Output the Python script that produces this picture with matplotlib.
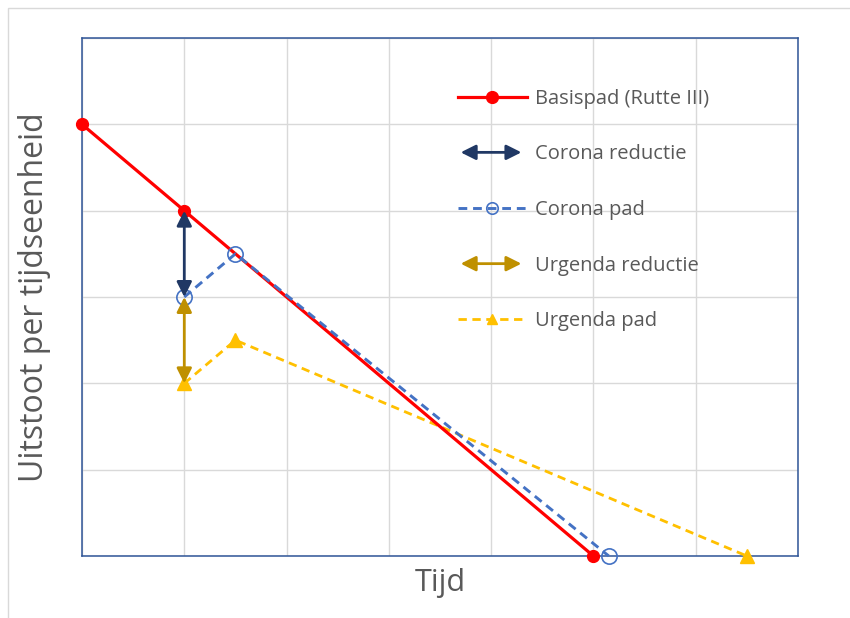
import matplotlib.pyplot as plt
from matplotlib.patches import FancyArrowPatch, Rectangle
from matplotlib.legend_handler import HandlerBase
from matplotlib.lines import Line2D

# data
basis_x = [0, 1, 5]
basis_y = [5, 4, 0]
corona_x = [1, 1.5, 5.15]
corona_y = [3, 3.5, 0]
urgenda_x = [1, 1.5, 6.5]
urgenda_y = [2, 2.5, 0]
corona_red = (1, 4, 3)     # x, from, to
urgenda_red = (1, 3, 2)

labels = ['Basispad (Rutte III)', 'Corona reductie', 'Corona pad',
          'Urgenda reductie', 'Urgenda pad']

red = '#FF0000'
blue = '#4472C4'
yellow = '#FFC000'
navy = '#203864'
gold = '#BF9000'
txt = '#595959'

plt.rcParams['font.family'] = ['Open Sans', 'DejaVu Sans']


class HandlerArrow(HandlerBase):
    def create_artists(self, legend, orig, xd, yd, w, h, fontsize, trans):
        a = FancyArrowPatch((xd, yd + h / 2), (xd + w - 2, yd + h / 2),
                            arrowstyle='<|-|>,head_length=0.9,head_width=0.45',
                            mutation_scale=10, color=orig.get_color(),
                            lw=2, transform=trans)
        return [a]


fig = plt.figure(figsize=(8.5, 6.18), dpi=100)
fig.patches.append(Rectangle((8 / 850, -0.01), 1, (618 - 8) / 618 + 0.01,
                             transform=fig.transFigure, fill=False,
                             ec='#D9D9D9', lw=1))
ax = fig.add_axes([82 / 850, 1 - 556 / 618, 716 / 850, 518 / 618])

ax.set_xlim(0, 7)
ax.set_ylim(0, 6)
ax.set_xticks(range(8))
ax.set_yticks(range(7))
ax.tick_params(length=0, labelbottom=False, labelleft=False)
ax.grid(True, color='#D9D9D9', lw=1)
for s in ax.spines.values():
    s.set_color('#2F5597')
    s.set_linestyle((0, (1.5, 1)))
    s.set_linewidth(1.1)

ax.plot(basis_x, basis_y, color=red, lw=2.3, marker='o', ms=8.5,
        clip_on=False, zorder=4, label=labels[0])
ax.plot(corona_x, corona_y, color=blue, lw=2.1, ls=(0, (3, 2)), marker='o',
        ms=11, mfc='none', mec=blue, mew=1.2, clip_on=False, zorder=5,
        label=labels[2])
ax.plot(urgenda_x, urgenda_y, color=yellow, lw=2, ls=(0, (3, 2)), marker='^',
        ms=10, clip_on=False, zorder=3, label=labels[4])

for (x, y0, y1), c in [(corona_red, navy), (urgenda_red, gold)]:
    ax.add_patch(FancyArrowPatch((x, y0), (x, y1),
                                 arrowstyle='<|-|>,head_length=0.9,head_width=0.45',
                                 mutation_scale=10, color=c, lw=2,
                                 shrinkA=0, shrinkB=0, zorder=6))

proxy_c = Line2D([], [], color=navy)
proxy_u = Line2D([], [], color=gold)
h, l = ax.get_legend_handles_labels()
handles = [h[0], proxy_c, h[1], proxy_u, h[2]]
leg = ax.legend(handles, labels, loc='upper left',
                bbox_to_anchor=(0.525, 0.902), frameon=False, fontsize=14.5,
                borderpad=0, borderaxespad=0,
                labelspacing=1.77, handlelength=3.43, handletextpad=0.4,
                labelcolor=txt,
                handler_map={proxy_c: HandlerArrow(), proxy_u: HandlerArrow()})
for lh in leg.legend_handles[1:]:
    if isinstance(lh, Line2D):
        lh.set_markersize(lh.get_markersize() * 0.75)

ax.set_xlabel('Tijd', fontsize=22, color=txt, labelpad=9)
ax.set_ylabel('Uitstoot per tijdseenheid', fontsize=23, color=txt, labelpad=22)

fig.savefig('out.png', dpi=100)
